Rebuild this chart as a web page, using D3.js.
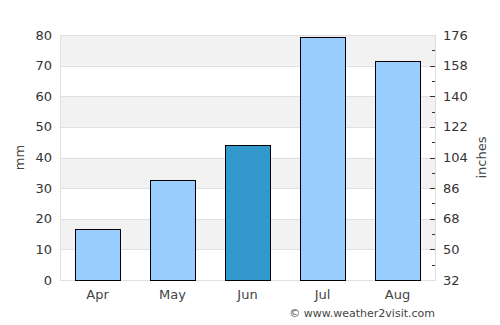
<!DOCTYPE html>
<html>
<head>
<meta charset="utf-8">
<script src="https://cdn.jsdelivr.net/npm/d3@7"></script>
<style>
  body { margin: 0; background: #fff; }
  text { font-family: "DejaVu Sans", sans-serif; fill: #333; }
</style>
</head>
<body>
<div id="chart"></div>
<script>
var width = 500;
var height = 325;

// rainfall per month, mm
var months = ["Apr", "May", "Jun", "Jul", "Aug"];
var rain = [16.5, 32.8, 44, 79.5, 71.5];
var highlight = "Jun";

var leftTicks = [0, 10, 20, 30, 40, 50, 60, 70, 80];
var rightTicks = [32, 50, 68, 86, 104, 122, 140, 158, 176];

// plot box (window.top is reserved, so prefixed names)
var plotL = 60, plotR = 435, plotT = 35, plotB = 280;

var svg = d3.select("#chart")
    .append("svg")
    .attr("width", width)
    .attr("height", height);

var x = d3.scaleBand()
    .domain(months)
    .range([plotL, plotR])
    .paddingInner(0.4)
    .paddingOuter(0.2);

var y = d3.scaleLinear()
    .domain([0, 80])
    .range([plotB, plotT]);

var y2 = d3.scaleLinear()
    .domain([32, 176])
    .range([plotB, plotT]);

// alternating bands
for (var k = 0; k < leftTicks.length - 1; k++) {
    svg.append("rect")
        .attr("x", plotL)
        .attr("y", y(leftTicks[k + 1]))
        .attr("width", plotR - plotL)
        .attr("height", y(leftTicks[k]) - y(leftTicks[k + 1]))
        .attr("fill", k % 2 == 1 ? "#f2f2f2" : "#fff");
}

// grid lines
svg.selectAll("line.grid")
    .data(leftTicks)
    .enter()
    .append("line")
    .attr("class", "grid")
    .attr("x1", plotL)
    .attr("x2", plotR)
    .attr("y1", function(d) { return Math.round(y(d)) + 0.5; })
    .attr("y2", function(d) { return Math.round(y(d)) + 0.5; })
    .attr("stroke", "#e0e0e0");

// frame sides
svg.append("line")
    .attr("x1", plotL + 0.5).attr("x2", plotL + 0.5)
    .attr("y1", plotT).attr("y2", plotB)
    .attr("stroke", "#e0e0e0");
svg.append("line")
    .attr("x1", plotR + 0.5).attr("x2", plotR + 0.5)
    .attr("y1", plotT).attr("y2", plotB + 1)
    .attr("stroke", "#ddd");

// bars
svg.selectAll("rect.bar")
    .data(months)
    .enter()
    .append("rect")
    .attr("class", "bar")
    .attr("x", function(d) { return Math.round(x(d)) + 0.5; })
    .attr("y", function(d, i) { return Math.round(y(rain[i])) + 0.5; })
    .attr("width", Math.round(x.bandwidth()))
    .attr("height", function(d, i) { return plotB - Math.round(y(rain[i])); })
    .attr("fill", function(d) { return d == highlight ? "#3399cc" : "#99ccff"; })
    .attr("stroke", "#000")
    .attr("stroke-width", 1);

// left axis labels
svg.selectAll("text.left")
    .data(leftTicks)
    .enter()
    .append("text")
    .attr("class", "left")
    .attr("x", 52)
    .attr("y", function(d) { return y(d); })
    .attr("dy", "0.35em")
    .attr("text-anchor", "end")
    .style("font-size", "13px")
    .text(function(d) { return d; });

// right axis ticks (major + minor)
var minor = [];
for (var m = 0; m < rightTicks.length - 1; m++) {
    minor.push((rightTicks[m] + rightTicks[m + 1]) / 2);
}
svg.selectAll("line.major")
    .data(rightTicks.slice(1, -1))
    .enter()
    .append("line")
    .attr("class", "major")
    .attr("x1", plotR - 5)
    .attr("x2", plotR)
    .attr("y1", function(d) { return Math.round(y2(d)) + 0.5; })
    .attr("y2", function(d) { return Math.round(y2(d)) + 0.5; })
    .attr("stroke", "#333");
svg.selectAll("line.minor")
    .data(minor)
    .enter()
    .append("line")
    .attr("class", "minor")
    .attr("x1", plotR - 3)
    .attr("x2", plotR)
    .attr("y1", function(d) { return Math.round(y2(d)) + 0.5; })
    .attr("y2", function(d) { return Math.round(y2(d)) + 0.5; })
    .attr("stroke", "#333");

svg.selectAll("text.right")
    .data(rightTicks)
    .enter()
    .append("text")
    .attr("class", "right")
    .attr("x", 443)
    .attr("y", function(d) { return y2(d); })
    .attr("dy", "0.35em")
    .style("font-size", "13px")
    .text(function(d) { return d; });

// month labels
svg.selectAll("text.month")
    .data(months)
    .enter()
    .append("text")
    .attr("class", "month")
    .attr("x", function(d) { return x(d) + x.bandwidth() / 2; })
    .attr("y", 299)
    .attr("text-anchor", "middle")
    .style("font-size", "13px")
    .style("fill", "#444")
    .text(function(d) { return d; });

// axis titles
svg.append("text")
    .attr("transform", "translate(24," + ((plotT + plotB) / 2) + ") rotate(-90)")
    .attr("text-anchor", "middle")
    .style("font-size", "13px")
    .style("fill", "#444")
    .text("mm");
svg.append("text")
    .attr("transform", "translate(486," + ((plotT + plotB) / 2) + ") rotate(-90)")
    .attr("text-anchor", "middle")
    .style("font-size", "13px")
    .style("fill", "#444")
    .text("inches");

svg.append("text")
    .attr("x", 435)
    .attr("y", 317)
    .attr("text-anchor", "end")
    .style("font-size", "11px")
    .style("fill", "#444")
    .text("© www.weather2visit.com");
</script>
</body>
</html>
